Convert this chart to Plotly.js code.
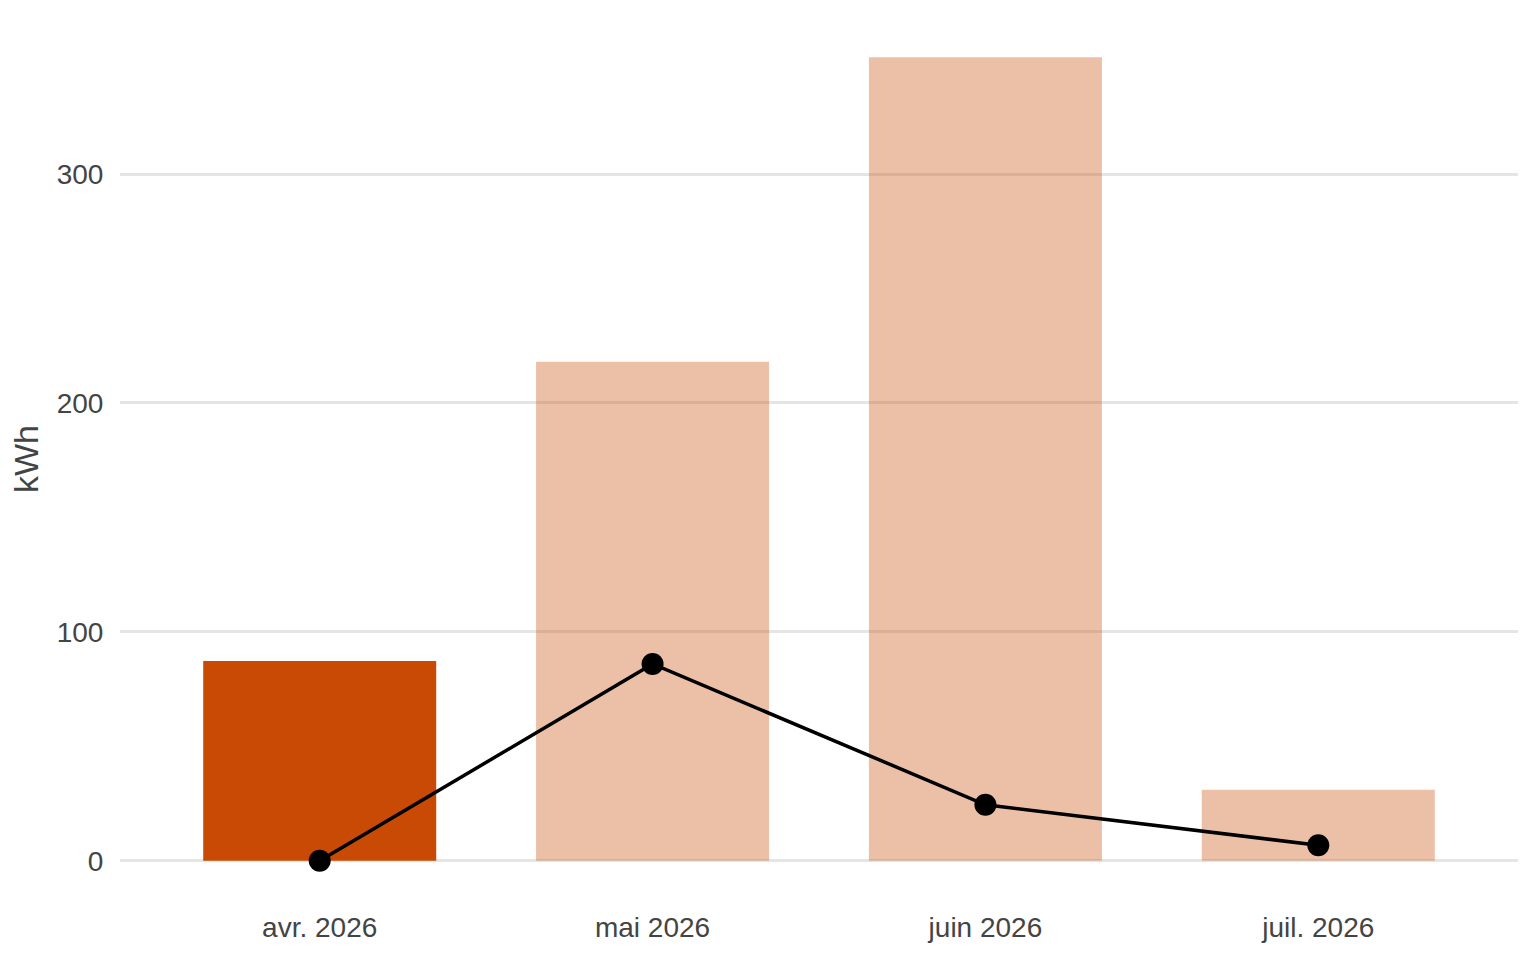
<!DOCTYPE html>
<html>
<head>
<meta charset="utf-8">
<script src="https://cdn.plot.ly/plotly-3.0.1.min.js"></script>
<style>html,body{margin:0;padding:0;background:#fff;}#chart{width:1536px;height:960px;}</style>
</head>
<body>
<div id="chart"></div>
<script>
const months = ["avr. 2026", "mai 2026", "juin 2026", "juil. 2026"];
const barValues = [87.3, 218, 351, 31];
const lineValues = [0, 86, 24.5, 6.8];
const barColors = ["#C84A04", "rgba(200,74,4,0.35)", "rgba(200,74,4,0.35)", "rgba(200,74,4,0.35)"];
const yTicks = [0, 100, 200, 300];

const traces = [
  {
    type: "bar",
    x: months,
    y: barValues,
    width: 0.7,
    marker: {color: barColors, line: {width: 0}},
    hoverinfo: "x+y",
    showlegend: false
  },
  {
    type: "scatter",
    mode: "lines+markers",
    x: months,
    y: lineValues,
    line: {color: "#000000", width: 3.5},
    marker: {color: "#000000", size: 22},
    showlegend: false
  }
];

const layout = {
  width: 1536,
  height: 960,
  margin: {l: 120, r: 18, t: 17, b: 59},
  paper_bgcolor: "#ffffff",
  plot_bgcolor: "#ffffff",
  font: {family: "Liberation Sans, Arial, sans-serif", color: "#444444", size: 28},
  xaxis: {
    type: "category",
    range: [-0.6, 3.6],
    showgrid: false,
    zeroline: false,
    showline: false,
    ticks: "outside",
    ticklen: 1,
    tickcolor: "rgba(0,0,0,0)",
    tickfont: {size: 28, color: "#444444"},
    automargin: false
  },
  yaxis: {
    range: [-17.55, 368.6],
    tickvals: yTicks,
    ticktext: yTicks.map(String),
    showgrid: true,
    gridcolor: "#E5E5E5",
    gridwidth: 3,
    zeroline: false,
    showline: false,
    ticks: "outside",
    ticklen: 10,
    tickcolor: "rgba(0,0,0,0)",
    tickfont: {size: 28, color: "#444444"},
    title: {text: "kWh", font: {size: 34, color: "#444444"}, standoff: 7},
    automargin: false
  },
  bargap: 0.3
};

Plotly.newPlot("chart", traces, layout, {displayModeBar: false, staticPlot: true});
</script>
</body>
</html>
